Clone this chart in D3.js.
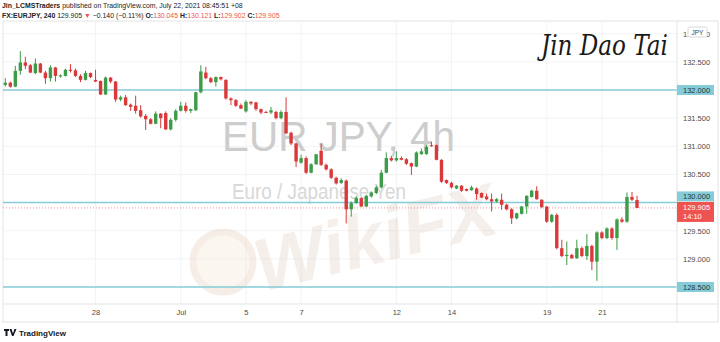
<!DOCTYPE html>
<html>
<head>
<meta charset="utf-8">
<script src="https://cdn.jsdelivr.net/npm/d3@7"></script>
<style>
  body { margin: 0; background: #fff; }
  svg { display: block; font-family: "Liberation Sans", Arial, sans-serif; }
</style>
</head>
<body>
<script>
// EURJPY 4h candles (oldest first)
const opens = [
  132.09,132.13,132.06,132.34,132.49,132.44,132.30,132.47,132.31,132.21,
  132.40,132.24,132.25,132.36,132.35,132.25,132.18,132.30,132.18,132.16,
  131.92,132.22,132.15,131.83,131.87,131.74,131.72,131.64,131.54,131.48,
  131.40,131.58,131.59,131.30,131.47,131.63,131.72,131.63,131.64,131.96,
  132.31,132.21,132.14,132.23,132.18,131.85,131.82,131.73,131.62,131.79,
  131.78,131.66,131.61,131.60,131.61,131.50,131.61,131.24,131.05,130.71,
  130.79,130.53,130.68,130.92,130.67,130.59,130.44,130.35,130.39,129.88,
  129.99,130.08,129.93,130.11,130.17,130.27,130.53,130.79,130.75,130.79,
  130.77,130.70,130.64,130.86,130.86,131.02,131.02,130.76,130.40,130.35,
  130.25,130.30,130.24,130.22,130.25,130.17,130.11,130.06,130.02,130.05,
  129.96,129.88,129.72,129.80,129.93,130.10,130.21,130.05,129.93,129.66,
  129.78,129.19,129.05,129.07,129.01,129.19,129.05,129.23,128.95,129.47,
  129.37,129.54,129.37,129.70,129.66,130.10,130.045
];
const highs = [
  132.21,132.15,132.43,132.69,132.59,132.46,132.56,132.48,132.34,132.44,
  132.41,132.28,132.38,132.46,132.38,132.28,132.34,132.31,132.36,132.17,
  132.24,132.23,132.16,131.90,131.91,131.76,131.90,131.73,131.57,131.50,
  131.62,131.59,131.62,131.50,131.66,131.79,131.78,131.67,131.97,132.44,
  132.41,132.23,132.24,132.24,132.19,131.87,131.84,131.76,131.82,131.80,
  131.79,131.67,131.63,131.70,131.63,131.64,131.87,131.26,131.06,130.85,
  130.82,130.70,130.85,131.05,130.69,130.61,130.46,130.43,130.41,130.02,
  130.11,130.09,130.14,130.20,130.30,130.58,130.89,130.83,130.91,130.82,
  130.79,130.71,130.91,130.96,131.02,131.08,131.03,130.77,130.41,130.37,
  130.31,130.31,130.25,130.30,130.27,130.18,130.16,130.16,130.08,130.16,
  129.98,129.90,129.82,129.94,130.13,130.23,130.29,130.06,129.94,129.80,
  129.81,129.34,129.31,129.09,129.34,129.22,129.44,129.25,129.49,129.49,
  129.56,129.56,129.72,129.74,130.18,130.19,130.121
];
const lows = [
  132.06,132.04,132.05,132.27,132.37,132.30,132.28,132.30,132.11,132.15,
  132.15,132.22,132.24,132.31,132.23,132.14,132.17,132.21,132.14,131.91,
  131.91,132.12,131.79,131.80,131.72,131.63,131.58,131.51,131.29,131.39,
  131.39,131.32,131.29,131.28,131.44,131.62,131.60,131.59,131.63,131.94,
  132.19,132.12,132.06,132.17,131.83,131.73,131.70,131.66,131.60,131.73,
  131.63,131.57,131.59,131.57,131.48,131.48,131.22,131.02,130.63,130.69,
  130.51,130.52,130.67,130.65,130.57,130.42,130.32,130.33,129.63,129.75,
  129.98,129.92,129.92,130.09,130.15,130.25,130.52,130.73,130.73,130.75,
  130.67,130.49,130.63,130.85,130.85,130.99,130.75,130.35,130.33,130.25,
  130.24,130.19,130.20,130.21,130.05,130.08,130.04,129.84,130.00,129.87,
  129.86,129.62,129.70,129.79,129.80,130.09,130.05,129.90,129.64,129.64,
  129.17,129.03,128.89,129.00,129.00,129.03,128.98,128.80,128.61,129.35,
  129.35,129.34,129.16,129.64,129.64,130.03,129.902
];
const closes = [
  132.13,132.06,132.34,132.49,132.43,132.31,132.47,132.31,132.21,132.40,
  132.25,132.26,132.36,132.34,132.25,132.18,132.30,132.23,132.15,131.92,
  132.22,132.15,131.83,131.87,131.73,131.70,131.63,131.53,131.48,131.40,
  131.58,131.50,131.30,131.47,131.63,131.72,131.63,131.66,131.96,132.33,
  132.21,132.14,132.23,132.19,131.85,131.82,131.72,131.67,131.79,131.76,
  131.66,131.60,131.60,131.64,131.50,131.61,131.23,131.05,130.73,130.79,
  130.53,130.68,130.86,130.67,130.59,130.44,130.34,130.40,129.88,129.99,
  130.08,129.93,130.12,130.18,130.27,130.53,130.79,130.75,130.79,130.76,
  130.69,130.64,130.89,130.91,130.99,131.01,130.76,130.37,130.35,130.27,
  130.30,130.21,130.21,130.27,130.15,130.09,130.06,130.02,130.06,129.96,
  129.88,129.72,129.81,129.93,130.12,130.21,130.06,129.92,129.66,129.78,
  129.19,129.05,129.07,129.01,129.19,129.05,129.23,128.95,129.47,129.37,
  129.54,129.37,129.70,129.66,130.10,130.05,129.905
];

// day labels on the time axis and the bar each one starts at
const dayLabels = ["28", "Jul", "5", "7", "12", "14", "19", "21"];
const dayBars = [18, 35, 48, 59, 78, 89, 108, 119];

const priceTicks = [128.5, 129.0, 129.5, 130.0, 130.5, 131.0, 131.5, 132.0, 132.5, 133.0];
const levels = [132.0, 130.0, 128.5];
const lastPrice = 129.905;
const countdown = "14:10";

const width = 720, height = 342;
const pane = { left: 3, right: 718, top: 21, bottom: 322, axisX: 677, axisY: 304 };
const upColor = "#3c9c47", downColor = "#d9393b";
const levelColor = "#86ccd8", red = "#ef5350";

const bars = opens.map((o, i) => ({ i, o, h: highs[i], l: lows[i], c: closes[i] }));

const x = d3.scaleLinear().domain([0, bars.length - 1]).range([5.3, 637]);
const y = d3.scaleLinear().domain([128.5, 132]).range([287, 90]);

const svg = d3.select("body").append("svg")
  .attr("width", width).attr("height", height);

// header
const head = svg.append("g").attr("font-size", 6.9).attr("fill", "#222");
const l1 = head.append("text").attr("x", 2).attr("y", 8);
l1.append("tspan").attr("font-weight", "bold").text("Jin_LCMSTraders");
l1.append("tspan").text(" published on TradingView.com, July 22, 2021 08:45:51 +08");
const l2 = head.append("text").attr("x", 2).attr("y", 17.5);
[["FX:EURJPY, 240", "#222", "bold"], [" 129.905 ", "#222"], ["\u25BC", red], [" \u22120.140 (\u22120.11%) ", "#222"],
 ["O:", "#222", "bold"], ["130.045", red], [" H:", "#222", "bold"], ["130.121", red],
 [" L:", "#222", "bold"], ["129.902", red], [" C:", "#222", "bold"], ["129.905", red]]
  .forEach(([t, col, w]) => l2.append("tspan").attr("fill", col).attr("font-weight", w || null).text(t));

// pane frame
svg.append("rect").attr("x", pane.left).attr("y", pane.top)
  .attr("width", pane.right - pane.left).attr("height", pane.bottom - pane.top)
  .attr("fill", "none").attr("stroke", "#e3e3e3");

// grid
svg.append("g").selectAll("line").data(priceTicks).join("line")
  .attr("x1", pane.left).attr("x2", pane.axisX)
  .attr("y1", d => y(d)).attr("y2", d => y(d))
  .attr("stroke", "#f3f3f3");
svg.append("g").selectAll("line").data(dayBars).join("line")
  .attr("x1", d => x(d)).attr("x2", d => x(d))
  .attr("y1", pane.top).attr("y2", pane.axisY)
  .attr("stroke", "#f3f3f3");

// watermark
svg.append("text").attr("x", 222).attr("y", 151)
  .attr("font-size", 42).attr("fill", "#cdcdcd")
  .attr("textLength", 233).attr("lengthAdjust", "spacingAndGlyphs")
  .text("EUR JPY, 4h");
svg.append("text").attr("x", 232).attr("y", 199)
  .attr("font-size", 22).attr("fill", "#d8d8d8")
  .attr("textLength", 174).attr("lengthAdjust", "spacingAndGlyphs")
  .text("Euro / Japanese Yen");
const wm = svg.append("g").attr("opacity", 0.3);
wm.append("circle").attr("cx", 223).attr("cy", 262).attr("r", 30)
  .attr("fill", "#f3e2d0").attr("stroke", "#e2c9b0").attr("stroke-width", 7);
wm.append("text").attr("x", 262).attr("y", 292)
  .attr("transform", "rotate(-14 262 292)")
  .attr("font-size", 74).attr("font-weight", "bold").attr("font-style", "italic")
  .attr("fill", "#dccbbb").text("WikiFX");

// horizontal levels
svg.append("g").selectAll("line").data(levels).join("line")
  .attr("x1", pane.left).attr("x2", pane.axisX)
  .attr("y1", d => y(d)).attr("y2", d => y(d))
  .attr("stroke", levelColor).attr("stroke-width", 1.6);

// last price line
svg.append("line")
  .attr("x1", pane.left).attr("x2", pane.axisX)
  .attr("y1", y(lastPrice)).attr("y2", y(lastPrice))
  .attr("stroke", red).attr("stroke-opacity", 0.6).attr("stroke-dasharray", "1,2");

// candles
const cg = svg.append("g");
cg.selectAll("line").data(bars).join("line")
  .attr("x1", d => x(d.i)).attr("x2", d => x(d.i))
  .attr("y1", d => y(d.h)).attr("y2", d => y(d.l))
  .attr("stroke", d => d.c >= d.o ? upColor : downColor).attr("stroke-width", 1);
cg.selectAll("rect").data(bars).join("rect")
  .attr("x", d => x(d.i) - 1.7).attr("width", 3.4)
  .attr("y", d => y(Math.max(d.o, d.c)))
  .attr("height", d => Math.max(1, Math.abs(y(d.o) - y(d.c))))
  .attr("fill", d => d.c >= d.o ? upColor : downColor);

// axis separators
svg.append("line").attr("x1", pane.axisX).attr("x2", pane.axisX)
  .attr("y1", pane.top).attr("y2", pane.bottom).attr("stroke", "#e3e3e3");
svg.append("line").attr("x1", pane.left).attr("x2", pane.right)
  .attr("y1", pane.axisY).attr("y2", pane.axisY).attr("stroke", "#e3e3e3");

// price axis (ticks hidden under the level labels are left out)
const axisTicks = priceTicks.filter(t => !levels.includes(t));
const yAxis = g => g
  .attr("transform", `translate(${pane.axisX + 6},0)`)
  .call(d3.axisRight(y).tickValues(axisTicks).tickFormat(d3.format(".3f")).tickSize(0).tickPadding(0))
  .call(g => g.select(".domain").remove())
  .call(g => g.selectAll("text").attr("font-size", 7.5).attr("fill", "#4a4a4a")
    .attr("font-family", "Liberation Sans, Arial, sans-serif"));
svg.append("g").call(yAxis);

// time axis
const xAxis = g => g
  .attr("transform", `translate(0,${pane.axisY})`)
  .call(d3.axisBottom(x).tickValues(dayBars).tickFormat((d, i) => dayLabels[i]).tickSize(0).tickPadding(6))
  .call(g => g.select(".domain").remove())
  .call(g => g.selectAll("text").attr("font-size", 7.5).attr("fill", "#4a4a4a")
    .attr("font-family", "Liberation Sans, Arial, sans-serif"));
svg.append("g").call(xAxis);

// price labels for the levels and the last price
const redTop = y(lastPrice) - 6, redH = 20;
const lab = svg.append("g").attr("font-size", 7.5);
levels.forEach(v => {
  let top = y(v) - 5;
  if (top + 10 > redTop && top < redTop + redH) top = redTop - 10.5;
  lab.append("rect").attr("x", pane.axisX).attr("y", top).attr("width", 37).attr("height", 10)
    .attr("fill", levelColor);
  lab.append("text").attr("x", pane.axisX + 6).attr("y", top + 7.6).attr("fill", "#1d3a40")
    .text(d3.format(".3f")(v));
});
lab.append("rect").attr("x", pane.axisX).attr("y", redTop).attr("width", 37).attr("height", redH)
  .attr("fill", red);
lab.append("text").attr("x", pane.axisX + 6).attr("y", redTop + 8.2).attr("fill", "#fff")
  .text(d3.format(".3f")(lastPrice));
lab.append("text").attr("x", pane.axisX + 6).attr("y", redTop + 17).attr("fill", "#fff")
  .text(countdown);

// currency badge (sits over the top tick as in the original)
svg.append("rect").attr("x", 688).attr("y", 27).attr("width", 19).attr("height", 10)
  .attr("rx", 1.5).attr("fill", "#fff").attr("stroke", "#d8d8d8");
svg.append("text").attr("x", 697.5).attr("y", 34.5).attr("text-anchor", "middle")
  .attr("font-size", 6.5).attr("fill", "#444").text("JPY");

// signature
svg.append("text").attr("x", 541).attr("y", 55)
  .attr("font-family", "DejaVu Serif, serif").attr("font-style", "italic")
  .attr("font-size", 27).attr("fill", "#1a1a1a")
  .attr("textLength", 127).attr("lengthAdjust", "spacingAndGlyphs")
  .text("Jin Dao Tai");

// footer logo
const foot = svg.append("g").attr("transform", "translate(4,329)");
foot.append("path").attr("d", "M0 0h5v2H3.5v5H1.5V2H0z M5.5 0h2l1.5 4.5L10.5 0h2l-3 7h-1.5z").attr("fill", "#131722");
foot.append("text").attr("x", 15).attr("y", 7).attr("font-size", 8).attr("font-weight", "bold")
  .attr("fill", "#131722").text("TradingView");
</script>
</body>
</html>
